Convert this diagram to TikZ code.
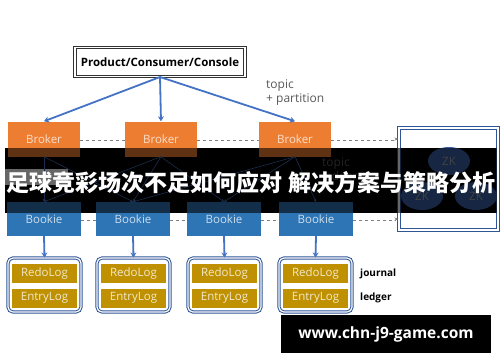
\documentclass[tikz,border=0pt]{standalone}
\usepackage{fontspec}
\setmainfont{Open Sans}
\newfontfamily\cjk{Noto Sans CJK SC}
\usetikzlibrary{positioning,shapes.geometric,arrows.meta,calc}
\definecolor{porange}{HTML}{ED7D31}
\definecolor{pblue}{HTML}{2E75B6}
\definecolor{lblue}{HTML}{4472C4}
\definecolor{dblue}{HTML}{2F5597}
\definecolor{gold}{HTML}{BF9000}
\definecolor{dgray}{HTML}{7F7F7F}
\definecolor{tgray}{HTML}{595959}

\begin{document}
\begin{tikzpicture}[x=1pt,y=-1pt,font=\fontsize{11.5}{14}\selectfont,
  brk/.style={fill=porange,text=porange!25,minimum width=72pt,minimum height=35pt,inner sep=0pt},
  bk/.style={fill=pblue,text=pblue!25,minimum width=74pt,minimum height=34pt,inner sep=0pt},
  lg/.style={fill=gold,text=gold!20,minimum width=65pt,minimum height=19pt,inner sep=0pt},
  ctn/.style={draw=dblue,double,double distance=1.2pt,line width=1pt,rounded corners=5pt,minimum width=73pt,minimum height=54pt},
  zk/.style={ellipse,fill=lblue!85!black,text=gray!70,minimum width=42pt,minimum height=28pt,inner sep=0pt},
  up/.style={draw=lblue,line width=1.8pt,-{Stealth[length=5pt,width=6pt]}},
  wr/.style={draw=lblue,line width=0.6pt,-{Stealth[length=3pt,width=3pt]}},
  dsh/.style={draw=dgray,dashed,double,double distance=1.4pt,line width=0.8pt},
  lbl/.style={text=tgray,align=left,anchor=north west,inner sep=0pt,font=\fontsize{12}{14}\selectfont}]
  \fill[white] (0,0) rectangle (500,362);
  \useasboundingbox (0,0) rectangle (500,362);
  % dark band behind the title
  \fill[black] (5,148) rectangle (497,213);
  \fill[white] (5,169) rectangle (68,185);

  \node[draw=black!80,double,double distance=1.6pt,line width=1pt,minimum width=170pt,minimum height=29pt,font=\bfseries\fontsize{11.5}{14}\selectfont] (pcc) at (160,62) {Product/Consumer/Console};
  \node[lbl] (tp1) at (266,79) {topic\\+ partition};

  \node[brk] (br1) at (44,139) {Broker};
  \node[brk] (br2) at (161,139) {Broker};
  \node[brk] (br3) at (295,139) {Broker};

  \node[draw=dblue,double,double distance=1.6pt,line width=1pt,minimum width=99pt,minimum height=102pt] (zkb) at (448.5,179) {};
  \node[zk] (zk1) at (449,161) {ZK};
  \node[zk] (zk2) at (422,196) {ZK};
  \node[zk] (zk3) at (476,196) {ZK};
  \node[lbl] (tp2) at (322,157) {topic\\ledger};

  \node[bk] (bk1) at (44,219) {Bookie};
  \node[bk] (bk2) at (133,219) {Bookie};
  \node[bk] (bk3) at (224,219) {Bookie};
  \node[bk] (bk4) at (316,219) {Bookie};

  \node[ctn] (lc1) at (44.5,285) {}; \node[lg] (rd1) at (44.5,273.5) {RedoLog}; \node[lg] (en1) at (44.5,298) {EntryLog};
  \node[ctn] (lc2) at (133.5,285) {}; \node[lg] (rd2) at (133.5,273.5) {RedoLog}; \node[lg] (en2) at (133.5,298) {EntryLog};
  \node[ctn] (lc3) at (224.5,285) {}; \node[lg] (rd3) at (224.5,273.5) {RedoLog}; \node[lg] (en3) at (224.5,298) {EntryLog};
  \node[ctn] (lc4) at (315.5,285) {}; \node[lg] (rd4) at (315.5,273.5) {RedoLog}; \node[lg] (en4) at (315.5,298) {EntryLog};
  \node[font=\bfseries,anchor=west,inner sep=0pt] (jr) at (360,274) {journal};
  \node[font=\bfseries,anchor=west,inner sep=0pt] (ld) at (360,298) {ledger};

  \draw[up] (pcc.south) -- (br1.north); \draw[up] (pcc.south) -- (br2.north); \draw[up] (pcc.south) -- (br3.north);
  \draw[dsh] (br1) -- (br2); \draw[dsh] (br2) -- (br3);
  \draw[dsh,-{Stealth[length=4pt]}] (br3.east) -- (br3.east -| zkb.west);
  \draw[dsh] (bk1) -- (bk2); \draw[dsh] (bk2) -- (bk3); \draw[dsh] (bk3) -- (bk4);
  \draw[dsh,-{Stealth[length=4pt]}] (bk4.east) -- (bk4.east -| zkb.west);
  \draw[wr] (br1.south) -- (bk1.north); \draw[wr] (br1.south) -- (bk2.north);
  \draw[wr] (br2.south) -- (bk1.north); \draw[wr] (br2.south) -- (bk2.north); \draw[wr] (br2.south) -- (bk3.north);
  \draw[wr] (br3.south) -- (bk2.north); \draw[wr] (br3.south) -- (bk3.north); \draw[wr] (br3.south) -- (bk4.north);
  \draw[up] (bk1.south) -- (lc1.north); \draw[up] (bk2.south) -- (lc2.north);
  \draw[up] (bk3.south) -- (lc3.north); \draw[up] (bk4.south) -- (lc4.north);

  % title band and site box on top
  \fill[black,opacity=0.6] (5,148) rectangle (497,213);
  \node[text=white,inner sep=0pt,font=\cjk\bfseries\fontsize{23}{23}\selectfont] (ttl) at (251,183) {足球竞彩场次不足如何应对 解决方案与策略分析};
  \node[fill=black,text=white,minimum width=210pt,minimum height=38pt,font=\bfseries\fontsize{15.5}{16}\selectfont] (url) at (386,334) {www.chn-j9-game.com};
\end{tikzpicture}
\end{document}
